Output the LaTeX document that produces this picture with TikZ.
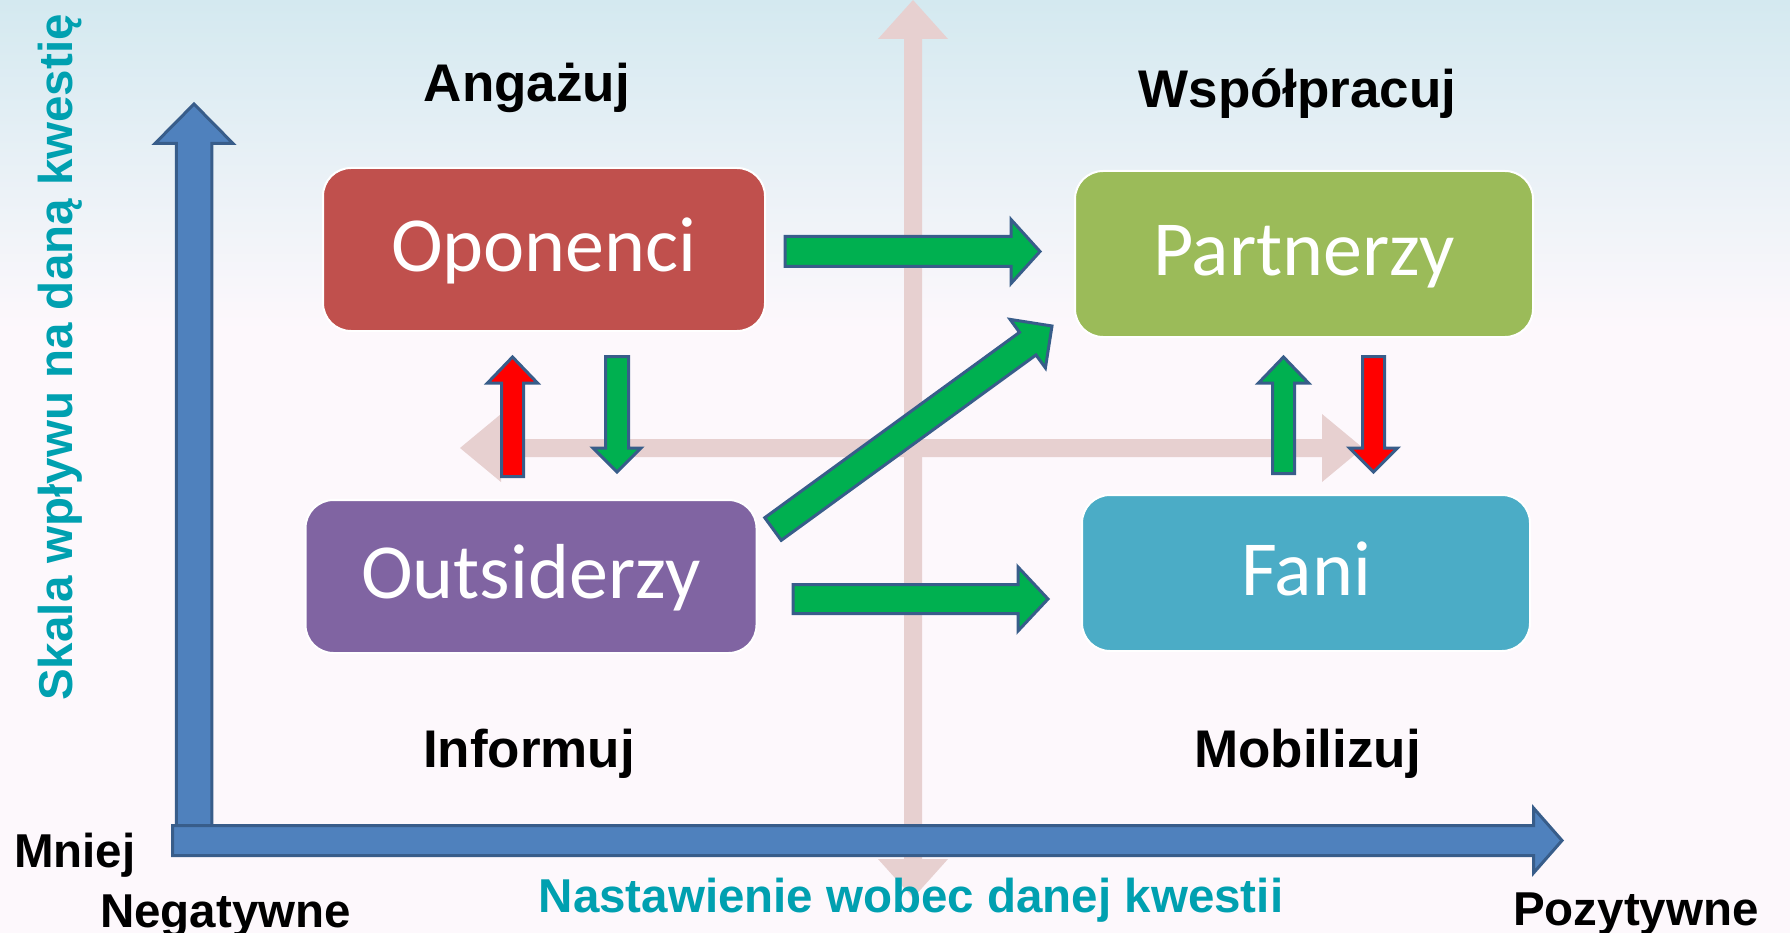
\documentclass[tikz,border=0pt]{standalone}
\usepackage{fontspec}
\setmainfont{Liberation Sans}
\newfontfamily\calib{Carlito}
\usetikzlibrary{calc}
\definecolor{bgtop}{RGB}{212,233,240}
\definecolor{bgbot}{RGB}{253,248,252}
\definecolor{pinkax}{RGB}{231,208,208}
\definecolor{axblue}{RGB}{79,129,189}
\definecolor{outl}{RGB}{56,93,138}
\definecolor{gfill}{RGB}{0,176,80}
\definecolor{rfill}{RGB}{255,0,0}
\definecolor{tealtxt}{RGB}{0,160,176}
\definecolor{cop}{RGB}{192,80,77}
\definecolor{cpa}{RGB}{155,187,89}
\definecolor{cou}{RGB}{128,100,162}
\definecolor{cfa}{RGB}{75,172,198}
% #1 style, #2 start, #3 end, #4 half shaft, #5 half head, #6 head length
\newcommand{\blkarrow}[6]{%
  \path ($(#3)!#6!(#2)$) coordinate (tmpH);
  \draw[#1] ($(#2)!#4!90:(#3)$) -- ($(tmpH)!#4!90:(#3)$) -- ($(tmpH)!#5!90:(#3)$) -- (#3)
    -- ($(tmpH)!#5!-90:(#3)$) -- ($(tmpH)!#4!-90:(#3)$) -- ($(#2)!#4!-90:(#3)$) -- cycle;
}
\newcommand{\dblarrow}[6]{%
  \path ($(#2)!#6!(#3)$) coordinate (tmpA) ($(#3)!#6!(#2)$) coordinate (tmpB);
  \fill[#1] (#2) -- ($(tmpA)!#5!90:(#3)$) -- ($(tmpA)!#4!90:(#3)$) -- ($(tmpB)!#4!-90:(#2)$)
    -- ($(tmpB)!#5!-90:(#2)$) -- (#3) -- ($(tmpB)!#5!90:(#2)$) -- ($(tmpB)!#4!90:(#2)$)
    -- ($(tmpA)!#4!-90:(#3)$) -- ($(tmpA)!#5!-90:(#3)$) -- cycle;
}
\begin{document}
\begin{tikzpicture}[x=1pt,y=-1pt,
  box/.style={rounded corners=28pt, draw=white, line width=2pt, text=white,
    font=\calib\fontsize{78}{80}\selectfont, text height=50pt, text depth=6pt, inner sep=0pt},
  lbl/.style={font=\bfseries\fontsize{53}{60}\selectfont, inner sep=0pt},
  small/.style={font=\bfseries\fontsize{47.5}{55}\selectfont, inner sep=0pt},
  gblk/.style={fill=gfill, draw=outl, line width=3pt, line join=miter},
  rblk/.style={fill=rfill, draw=outl, line width=3pt, line join=miter},
  axisblk/.style={fill=axblue, draw=outl, line width=3pt, line join=miter},
  pinkblk/.style={fill=pinkax}]
\useasboundingbox (0,0) rectangle (1790,933);
% background
\fill[bgbot] (0,0) rectangle (1790,933);
\shade[top color=bgtop, bottom color=bgbot] (0,0) rectangle (1790,330);
% pink cross axes
\coordinate (pvT) at (913,0);
\coordinate (pvB) at (913,898);
\coordinate (phL) at (460,448);
\coordinate (phR) at (1363,448);
\dblarrow{pinkblk}{pvT}{pvB}{9pt}{35pt}{39pt}
\dblarrow{pinkblk}{phL}{phR}{9pt}{34pt}{41pt}
% blue axes
\coordinate (vaB) at (194,830);
\coordinate (vaT) at (194,104);
\coordinate (haL) at (172.5,840.5);
\coordinate (haR) at (1562,840.5);
\blkarrow{axisblk}{vaB}{vaT}{17.75pt}{39pt}{39.5pt}
\blkarrow{axisblk}{haL}{haR}{15pt}{32.5pt}{28.5pt}
% boxes
\node[box, fill=cop, minimum width=442pt, minimum height=163pt] (op) at (544,249.5) {Oponenci};
\node[box, fill=cpa, minimum width=458pt, minimum height=166pt] (pa) at (1304,254) {Partnerzy};
\node[box, fill=cou, minimum width=451pt, minimum height=153pt] (ou) at (531,576.5) {Outsiderzy};
\node[box, fill=cfa, minimum width=448pt, minimum height=156pt] (fa) at (1306,573) {Fani};
% green / red arrows
\coordinate (a1s) at (785,251.5);
\coordinate (a1e) at (1040,251.5);
\blkarrow{gblk}{a1s}{a1e}{15pt}{32pt}{29pt}
\coordinate (a2s) at (793,599);
\coordinate (a2e) at (1048,599);
\blkarrow{gblk}{a2s}{a2e}{14.5pt}{32pt}{30pt}
\coordinate (a3s) at (773,529);
\coordinate (a3e) at (1052,326);
\blkarrow{gblk}{a3s}{a3e}{14pt}{30pt}{30pt}
\coordinate (a4s) at (512.5,476.5);
\coordinate (a4e) at (512.5,357);
\blkarrow{rblk}{a4s}{a4e}{11pt}{25pt}{26pt}
\coordinate (a5s) at (617,356.5);
\coordinate (a5e) at (617,472);
\blkarrow{gblk}{a5s}{a5e}{11.5pt}{24pt}{24pt}
\coordinate (a6s) at (1283.5,473.5);
\coordinate (a6e) at (1283.5,357);
\blkarrow{gblk}{a6s}{a6e}{11pt}{25pt}{26pt}
\coordinate (a7s) at (1373.5,356.5);
\coordinate (a7e) at (1373.5,472);
\blkarrow{rblk}{a7s}{a7e}{11pt}{24pt}{24pt}
% labels
\node[lbl, anchor=base] (ang) at (527,102) {Angażuj};
\node[lbl, anchor=base] (wsp) at (1297.5,108) {Współpracuj};
\node[lbl, anchor=base] (inf) at (529,767) {Informuj};
\node[lbl, anchor=base] (mob) at (1307.5,767) {Mobilizuj};
\node[small, anchor=base west] (mn) at (14,867) {Mniej};
\node[small, anchor=base west] (neg) at (100,927) {Negatywne};
\node[small, anchor=base west] (poz) at (1513,925) {Pozytywne};
\node[small, anchor=base, text=tealtxt] (nast) at (911,912) {Nastawienie wobec danej kwestii};
\node[small, anchor=base, text=tealtxt, rotate=90] (skala) at (72,357.5) {Skala wpływu na daną kwestię};
\end{tikzpicture}
\end{document}
